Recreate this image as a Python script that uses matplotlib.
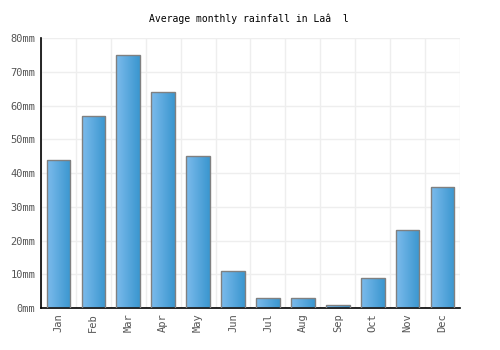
import matplotlib.pyplot as plt
import numpy as np
from matplotlib.colors import LinearSegmentedColormap

plt.rcParams.update(
    {
        "font.family": "DejaVu Sans Mono",
        "font.size": 7.5,
    }
)

months = ["Jan", "Feb", "Mar", "Apr", "May", "Jun",
          "Jul", "Aug", "Sep", "Oct", "Nov", "Dec"]
rainfall = [44, 57, 75, 64, 45, 11, 3, 3, 1, 9, 23, 36]
yticks = [0, 10, 20, 30, 40, 50, 60, 70, 80]

fig = plt.figure(figsize=(5, 3.5), dpi=100)
ax = fig.add_axes([0.082, 0.12, 0.838, 0.771])

x = np.arange(len(months))
bars = ax.bar(x, rainfall, width=0.68, color="none", edgecolor="#808080",
              linewidth=1.0, zorder=3)

cmap = LinearSegmentedColormap.from_list("bar", ["#7cbbec", "#3a96cf"])
grad = np.linspace(0, 1, 64).reshape(1, -1)
for bar in bars:
    x0, w, h = bar.get_x(), bar.get_width(), bar.get_height()
    im = ax.imshow(grad, cmap=cmap, aspect="auto", extent=(x0, x0 + w, 0, h),
                   zorder=2, interpolation="bilinear")
    im.set_clip_path(bar)

ax.set_xlim(-0.5, len(months) - 0.5)
ax.set_ylim(0, 80)
ax.set_yticks(yticks)
ax.set_yticklabels([f"{v}mm" for v in yticks])
ax.set_xticks(x)
ax.set_xticklabels(months, rotation=90)
ax.set_xticks(np.arange(-0.5, len(months)), minor=True)

ax.grid(True, which="major", axis="y", color="#eeeeee", linewidth=1, zorder=0)
ax.grid(True, which="minor", axis="x", color="#eeeeee", linewidth=1, zorder=0)
ax.set_axisbelow(True)

ax.tick_params(which="both", length=0, colors="#555555", pad=4)
for side in ["top", "right"]:
    ax.spines[side].set_visible(False)
for side in ["left", "bottom"]:
    ax.spines[side].set_color("black")
    ax.spines[side].set_linewidth(1.2)

fig.suptitle("Average monthly rainfall in Laâ  l", x=0.498, y=0.96, fontsize=7)

fig.savefig("out.png", dpi=100)
